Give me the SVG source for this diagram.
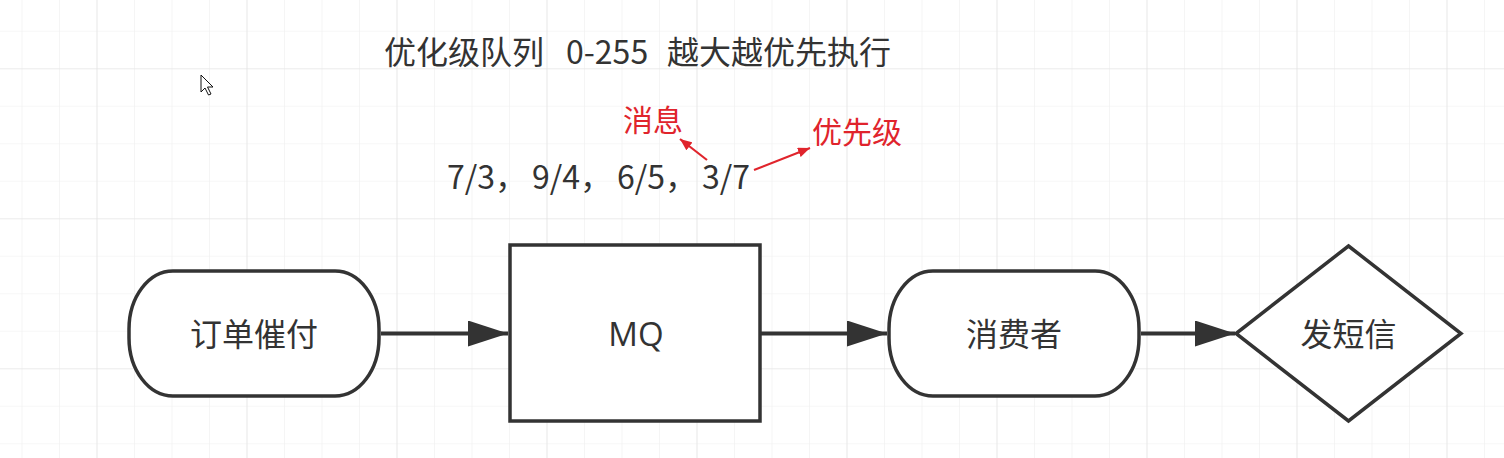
<svg xmlns="http://www.w3.org/2000/svg" width="1504" height="458" viewBox="0 0 1504 458">
<defs>
<pattern id="gridMinor" x="21.5" y="30.8" width="37.5" height="37.5" patternUnits="userSpaceOnUse">
<path d="M0 0 V37.5 M0 0 H37.5" fill="none" stroke="#efefef" stroke-width="1.2"/>
</pattern>
<pattern id="gridMajor" x="96.5" y="68.3" width="150" height="150" patternUnits="userSpaceOnUse">
<path d="M0 0 V150 M0 0 H150" fill="none" stroke="#e2e2e2" stroke-width="1.2"/>
</pattern>
<marker id="arrowBlack" markerWidth="40" markerHeight="26" refX="40" refY="13" orient="auto" markerUnits="userSpaceOnUse">
<path d="M0 0 L40 13 L0 26 Z" fill="#333"/>
</marker>
<marker id="arrowRed" markerWidth="12" markerHeight="10" refX="12" refY="5" orient="auto" markerUnits="userSpaceOnUse">
<path d="M0 0 L12 5 L0 10 Z" fill="#e0242c"/>
</marker>
</defs>
<style>
.node{fill:#fff;stroke:#333;stroke-width:3.5}
.lbl{font-family:"Noto Sans CJK SC","Noto Sans",sans-serif;font-size:32px;fill:#333;text-anchor:middle}
.lat{font-family:"Open Sans","Noto Sans CJK SC",sans-serif;font-size:33px;fill:#333;text-anchor:middle}
.txt{font-family:"Noto Sans CJK SC","Noto Sans",sans-serif;font-size:32px;fill:#333;white-space:pre}
.red{font-family:"Noto Sans CJK SC","Noto Sans",sans-serif;font-size:30px;fill:#e0242c}
.conn{fill:none;stroke:#333;stroke-width:4}
.rconn{fill:none;stroke:#e0242c;stroke-width:2.2}
</style>
<rect width="1504" height="458" fill="#fff"/>
<rect width="1504" height="458" fill="url(#gridMinor)"/>
<rect width="1504" height="458" fill="url(#gridMajor)"/>

<path d="M201 75 L201 92 L205 88 L208.5 95 L211 94 L207.5 87 L213 87 Z" fill="#fff" stroke="#111" stroke-width="1"/>

<text class="txt" x="384" y="64">优化级队列<tspan x="566">0-255</tspan><tspan x="667">越大越优先执行</tspan></text>
<text class="txt" x="447" y="189">7/3，<tspan x="532">9/4，</tspan><tspan x="617">6/5，</tspan><tspan x="702">3/7</tspan></text>
<text class="red" x="623" y="131">消息</text>
<text class="red" x="812" y="143">优先级</text>

<g id="connectors">
<path class="conn" d="M381 333.5 H508" marker-end="url(#arrowBlack)"/>
<path class="conn" d="M761 333.5 H887" marker-end="url(#arrowBlack)"/>
<path class="conn" d="M1141 333.5 H1235" marker-end="url(#arrowBlack)"/>
<path class="rconn" d="M707 160 L680 139" marker-end="url(#arrowRed)"/>
<path class="rconn" d="M754 170 L810 148" marker-end="url(#arrowRed)"/>
</g>

<g id="node-order">
<rect class="node" x="129" y="271" width="250" height="125" rx="44" ry="58"/>
<text class="lbl" x="254" y="346">订单催付</text>
</g>
<g id="node-mq">
<rect class="node" x="510" y="245" width="250" height="176"/>
<text class="lat" x="636" y="346">MQ</text>
</g>
<g id="node-consumer">
<rect class="node" x="889" y="271" width="250" height="125" rx="44" ry="58"/>
<text class="lbl" x="1014" y="346">消费者</text>
</g>
<g id="node-sms">
<path class="node" d="M1348.5 246 L1461 333.5 L1348.5 421 L1236 333.5 Z"/>
<text class="lbl" x="1348.5" y="346">发短信</text>
</g>
</svg>
